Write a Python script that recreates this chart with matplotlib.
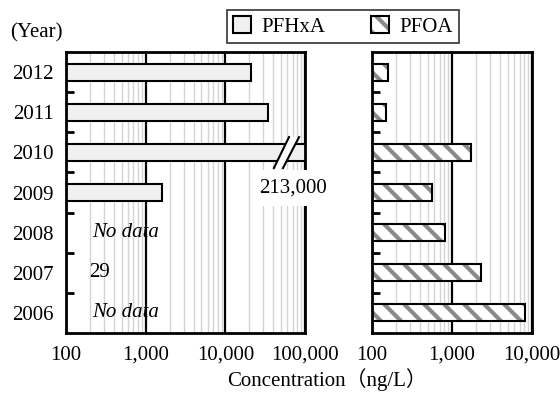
import numpy as np
import matplotlib
matplotlib.use("Agg")
import matplotlib.pyplot as plt
from matplotlib.patches import Patch, Polygon
from matplotlib.legend_handler import HandlerTuple
from matplotlib.ticker import FixedLocator, FuncFormatter, NullFormatter
import matplotlib.transforms as mtransforms

DPI = 120
s = 100 / DPI  # point-size scale so sizes match a 100-dpi layout

plt.rcParams['font.family'] = ['Liberation Serif', 'Noto Sans CJK JP', 'DejaVu Sans']
plt.rcParams['hatch.linewidth'] = 3.0 * s

years = ["2006", "2007", "2008", "2009", "2010", "2011", "2012"]
pfhxa = [np.nan, np.nan, np.nan, 1600, 213000, 34000, 21000]
pfoa = [8200, 2330, 815, 567, 1740, 150, 157]
pfhxa_text = {0: "No data", 1: "29", 2: "No data"}
left_ticks = [100, 1000, 10000, 100000]
right_ticks = [100, 1000, 10000]

FS = 15 * s

fig = plt.figure(figsize=(560 / DPI, 394 / DPI), dpi=DPI)
axL = fig.add_axes([66/560, 1-333/394, 239/560, 281/394])
axR = fig.add_axes([372/560, 1-333/394, 160/560, 281/394])

y = np.arange(len(years))
bh = 0.42
HATCH_GRAY = '#8a8a8a'

def style(ax, ticks):
    ax.set_xscale('log')
    ax.set_xlim(ticks[0], ticks[-1])
    ax.set_ylim(-0.5, len(years)-0.5)
    ax.set_axisbelow(True)
    ax.xaxis.set_major_locator(FixedLocator(ticks))
    minors = [d * k for d in ticks[:-1] for k in range(2, 10)]
    ax.xaxis.set_minor_locator(FixedLocator(minors))
    ax.xaxis.set_minor_formatter(NullFormatter())
    ax.xaxis.set_major_formatter(FuncFormatter(lambda v, p: f"{int(round(v)):,}"))
    ax.grid(which='minor', axis='x', color='#d4d4d4', lw=1.0 * s)
    ax.grid(which='major', axis='x', color='black', lw=1.6 * s)
    ax.tick_params(axis='x', which='both', length=0, pad=9 * s, labelsize=FS)
    ax.set_yticks(y)
    ax.set_yticks(y[:-1] + 0.5, minor=True)
    ax.tick_params(axis='y', which='major', length=0, pad=9 * s, labelsize=FS)
    ax.tick_params(axis='y', which='minor', length=6 * s, width=2 * s, direction='in')
    for sp in ax.spines.values():
        sp.set_linewidth(2.0 * s)

style(axL, left_ticks)
style(axR, right_ticks)
axL.set_yticklabels(years)
axR.set_yticklabels([])

# PFHxA bars
axL.barh(y, pfhxa, height=bh, color='#f0f0f0', edgecolor='black', lw=1.5 * s, zorder=2)

# PFOA bars (hatched)
axR.barh(y, pfoa, height=bh, color='white', edgecolor=HATCH_GRAY, lw=0, hatch='\\\\', zorder=2)
axR.barh(y, pfoa, height=bh, color='none', edgecolor='black', lw=1.5 * s, zorder=2.1)

# Text for missing / below-range values
for i, t in pfhxa_text.items():
    if t == "No data":
        axL.text(211, y[i], t, style='italic', fontsize=FS, va='center', ha='left')
    else:
        axL.text(194, y[i], t, fontsize=FS, va='center', ha='left')

# Broken bar for 2010
ib = years.index("2010")
tr = mtransforms.blended_transform_factory(axL.transAxes, axL.transData)
y0, y1 = y[ib] - 0.39, y[ib] + 0.38
xa0, xa1 = 0.870, 0.933
xb0, xb1 = 0.908, 0.975
axL.add_patch(Polygon([[xa0, y0], [xa1, y1], [xb1, y1], [xb0, y0]], closed=True,
                      facecolor='white', edgecolor='none', transform=tr, zorder=3, clip_on=False))
axL.plot([xa0, xa1], [y0, y1], color='black', lw=1.5 * s, transform=tr, zorder=4, clip_on=False)
axL.plot([xb0, xb1], [y0, y1], color='black', lw=1.5 * s, transform=tr, zorder=4, clip_on=False)
axL.text(0.95, y[ib] - 0.89, f"{pfhxa[ib]:,}", fontsize=FS, ha='center', va='center', transform=tr,
         zorder=5, clip_on=False,
         bbox=dict(boxstyle='square,pad=0.4', facecolor='white', edgecolor='none'))

fig.text(10/560, 1-33/394, "(Year)", fontsize=FS, ha='left', va='center')
fig.text(327/560, 1-380/394, "Concentration（ng/L）", fontsize=FS, ha='center', va='center')

h1 = Patch(facecolor='#f0f0f0', edgecolor='black', lw=1.5 * s)
h2a = Patch(facecolor='white', edgecolor=HATCH_GRAY, hatch='\\\\', lw=0)
h2b = Patch(facecolor='none', edgecolor='black', lw=1.5 * s)
leg = fig.legend(handles=[h1, (h2a, h2b)], labels=['PFHxA', 'PFOA'], ncol=2, loc='center',
                 bbox_to_anchor=(343/560, 1-26.5/394),
                 handler_map={tuple: HandlerTuple(ndivide=1, pad=0)},
                 fontsize=FS, frameon=True, fancybox=False, edgecolor='black',
                 handlelength=0.85, handleheight=0.85, handletextpad=0.5, columnspacing=2.2,
                 borderpad=0.3, borderaxespad=0)
leg.get_frame().set_linewidth(1.2 * s)

fig.savefig("out.png", dpi=DPI)
